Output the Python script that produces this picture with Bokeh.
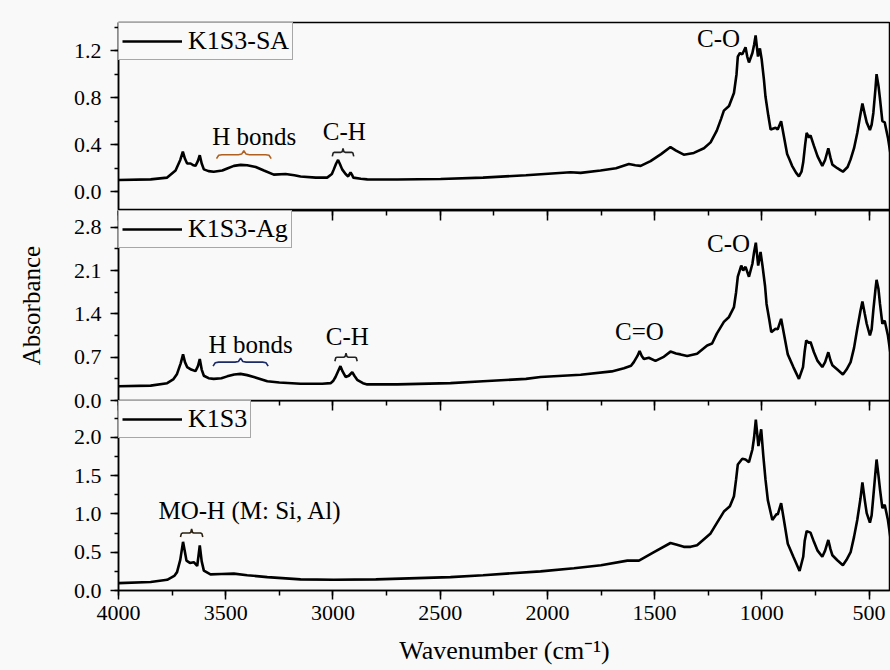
from bokeh.plotting import figure
from bokeh.models import (Range1d, SingleIntervalTicker, LinearAxis, PrintfTickFormatter,
                          Legend, LegendItem, ColumnDataSource)
from bokeh.layouts import column
from bokeh.embed import file_html
from bokeh.resources import INLINE
from bokeh.core.properties import value

# ---------------- data ----------------
wn_sa = [4000, 3850, 3773, 3734, 3712, 3700, 3690, 3680, 3664, 3650, 3641, 3630, 3621, 3612, 3602,
         3580, 3556, 3516, 3490, 3462, 3430, 3400, 3360, 3322, 3276, 3221, 3180, 3151, 3080, 3027,
         3005, 2996, 2985, 2976, 2966, 2957, 2941, 2929, 2918, 2910, 2905, 2870, 2840, 2700, 2498,
         2300, 2100, 1892, 1845, 1752, 1680, 1620, 1590, 1565, 1519, 1470, 1426, 1400, 1364, 1317,
         1270, 1239, 1210, 1190, 1177, 1153, 1130, 1118, 1112, 1102, 1091, 1076, 1068, 1060, 1044,
         1036, 1029, 1018, 1009, 1001, 990, 983, 970, 959, 936, 926, 910, 897, 882, 870, 859, 840,
         827, 815, 807, 798, 791, 780, 773, 757, 740, 718, 705, 690, 680, 671, 648, 630, 622, 600,
         586, 570, 555, 540, 531, 520, 511, 496, 488, 480, 470, 465, 456, 449, 438, 427, 412, 400]
ab_sa = [0.10, 0.105, 0.12, 0.18, 0.27, 0.34, 0.28, 0.24, 0.24, 0.225, 0.22, 0.26, 0.31, 0.24, 0.19,
         0.175, 0.17, 0.18, 0.20, 0.22, 0.228, 0.225, 0.21, 0.18, 0.145, 0.15, 0.14, 0.13, 0.12, 0.12,
         0.15, 0.19, 0.24, 0.27, 0.23, 0.19, 0.15, 0.13, 0.165, 0.14, 0.12, 0.11, 0.105, 0.104, 0.108,
         0.12, 0.14, 0.165, 0.16, 0.18, 0.20, 0.235, 0.225, 0.22, 0.26, 0.32, 0.38, 0.35, 0.315, 0.33,
         0.37, 0.42, 0.52, 0.62, 0.69, 0.73, 0.84, 1.0, 1.15, 1.18, 1.17, 1.23, 1.15, 1.10, 1.18,
         1.25, 1.33, 1.15, 1.22, 1.13, 0.95, 0.81, 0.65, 0.53, 0.545, 0.53, 0.60, 0.47, 0.32, 0.27, 0.22, 0.16,
         0.13, 0.17, 0.25, 0.40, 0.50, 0.46, 0.48, 0.39, 0.30, 0.22, 0.27, 0.37, 0.29, 0.23, 0.20, 0.18, 0.17, 0.21,
         0.275, 0.37, 0.50, 0.66, 0.75, 0.66, 0.59, 0.525, 0.57, 0.67, 0.88, 1.00, 0.90, 0.79, 0.60, 0.59, 0.46, 0.32]

wn_ag = [4000, 3850, 3773, 3745, 3727, 3710, 3699, 3690, 3680, 3661, 3641, 3630, 3621, 3612, 3602,
         3580, 3556, 3520, 3493, 3460, 3431, 3400, 3369, 3306, 3250, 3151, 3050, 3011, 2998, 2988,
         2975, 2965, 2955, 2941, 2926, 2910, 2900, 2887, 2860, 2840, 2700, 2452, 2300, 2100, 2032,
         1845, 1700, 1643, 1610, 1597, 1580, 1570, 1560, 1550, 1527, 1496, 1460, 1426, 1400, 1379,
         1348, 1302, 1255, 1232, 1210, 1177, 1153, 1130, 1120, 1112, 1096, 1087, 1076, 1060, 1044,
         1036, 1028, 1017, 1006, 997, 985, 978, 965, 956, 936, 926, 910, 897, 879, 853, 827, 808,
         800, 793, 780, 773, 757, 740, 718, 705, 690, 680, 671, 648, 622, 605, 586, 570, 555, 540,
         531, 520, 511, 496, 488, 480, 470, 465, 456, 449, 438, 427, 412, 400]
ab_ag = [0.23, 0.24, 0.28, 0.34, 0.43, 0.60, 0.745, 0.62, 0.54, 0.50, 0.475, 0.55, 0.67, 0.50, 0.40,
         0.36, 0.35, 0.36, 0.39, 0.42, 0.43, 0.41, 0.38, 0.31, 0.29, 0.27, 0.27, 0.28, 0.32, 0.38,
         0.48, 0.555, 0.47, 0.38, 0.40, 0.46, 0.40, 0.335, 0.28, 0.26, 0.26, 0.28, 0.31, 0.35, 0.38,
         0.415, 0.47, 0.52, 0.56, 0.62, 0.72, 0.80, 0.72, 0.67, 0.69, 0.64, 0.70, 0.79, 0.76, 0.745,
         0.72, 0.755, 0.89, 0.92, 1.08, 1.27, 1.35, 1.51, 1.75, 2.0, 2.18, 2.10, 2.16, 2.0, 2.21,
         2.40, 2.55, 2.18, 2.40, 2.18, 1.85, 1.56, 1.30, 1.105, 1.16, 1.15, 1.32, 1.08, 0.745, 0.54, 0.35, 0.54,
         0.80, 0.97, 0.93, 0.945, 0.78, 0.64, 0.54, 0.62, 0.78, 0.65, 0.57, 0.50, 0.42, 0.50, 0.62, 0.85, 1.16, 1.45,
         1.60, 1.40, 1.24, 1.05, 1.15, 1.46, 1.80, 1.95, 1.80, 1.56, 1.24, 1.29, 1.05, 0.755]

wn_k = [4000, 3850, 3773, 3740, 3727, 3712, 3699, 3690, 3683, 3667, 3649, 3633, 3627, 3621, 3612,
        3602, 3571, 3520, 3462, 3400, 3306, 3151, 2996, 2800, 2452, 2300, 2032, 1876, 1750, 1627,
        1573, 1503, 1426, 1400, 1364, 1332, 1302, 1239, 1210, 1177, 1149, 1130, 1120, 1112, 1091,
        1076, 1060, 1044, 1036, 1028, 1016, 1003, 993, 983, 972, 951, 931, 926, 910, 897, 879, 853,
        824, 807, 800, 791, 773, 757, 740, 718, 705, 690, 680, 671, 648, 622, 605, 586, 570, 555,
        540, 531, 520, 511, 496, 488, 480, 470, 465, 456, 449, 438, 427, 412, 400]
ab_k = [0.096, 0.11, 0.14, 0.19, 0.24, 0.40, 0.635, 0.50, 0.39, 0.36, 0.37, 0.32, 0.45, 0.59, 0.38,
        0.26, 0.21, 0.215, 0.22, 0.20, 0.175, 0.145, 0.14, 0.145, 0.175, 0.20, 0.25, 0.29, 0.33, 0.39,
        0.39, 0.50, 0.62, 0.60, 0.57, 0.57, 0.59, 0.745, 0.88, 1.03, 1.10, 1.23, 1.45, 1.645, 1.72,
        1.71, 1.675, 1.84, 2.0, 2.23, 1.885, 2.105, 1.755, 1.45, 1.18, 0.92, 1.00, 0.99, 1.14, 0.92, 0.61, 0.44,
        0.255, 0.44, 0.65, 0.775, 0.755, 0.635, 0.52, 0.44, 0.52, 0.66, 0.54, 0.46, 0.395, 0.33, 0.40, 0.50, 0.70, 0.92,
        1.20, 1.41, 1.18, 1.01, 0.885, 0.98, 1.23, 1.55, 1.71, 1.50, 1.32, 1.075, 1.12, 0.92, 0.68]

series_names = ["K1S3-SA", "K1S3-Ag", "K1S3"]
x_ticks_major = 500
x_tick_values = [4000, 3500, 3000, 2500, 2000, 1500, 1000, 500]
y_ranges = [(-0.16, 1.44), (0.0, 3.07), (0.0, 2.48)]
y_majors = [0.4, 0.7, 0.5]

# annotations: (label, x, y)
labels_sa = (["H bonds", "C-H", "C-O"], [3367, 2947, 1202], [0.47, 0.51, 1.30])
labels_ag = (["H bonds", "C-H", "C=O", "C-O"], [3384, 2933, 1571, 1155], [0.906, 1.035, 1.12, 2.54])
labels_k = (["MO-H (M: Si, Al)"], [3386], [1.05])
# braces: (x_start, x_end, y, colour)
braces_sa = [(3543, 3288, 0.315, "#b0601e"), (3003, 2903, 0.335, "#222222")]
braces_ag = [(3559, 3302, 0.62, "#1c2a66"), (2991, 2887, 0.70, "#222222")]
braces_k = [(3711, 3607, 0.75, "#2a2010")]

# ---------------- styling ----------------
FONT = "'Liberation Serif', 'Times New Roman', serif"
BG = "#f9f9f9"
W = 890
LEFT = 118
OVERLAP = 12
x_range = Range1d(4000, 400)


def make_panel(height, yr, ymaj, top, bottom, top_axis, bottom_axis, **kw):
    p = figure(width=W, height=height, x_range=x_range, y_range=Range1d(*yr),
               output_backend="svg", toolbar_location=None,
               x_axis_location="below" if bottom_axis else None,
               min_border_left=LEFT, min_border_right=0,
               min_border_top=top, min_border_bottom=bottom, **kw)
    p.background_fill_color = BG
    p.border_fill_color = BG
    p.outline_line_color = "black"
    p.outline_line_width = 1.5
    p.grid.visible = False
    ya = p.yaxis[0]
    ya.ticker = SingleIntervalTicker(interval=ymaj, num_minor_ticks=2)
    ya.formatter = PrintfTickFormatter(format="%.1f")
    ya.major_tick_out = 8
    ya.major_tick_in = 0
    ya.minor_tick_out = 4
    ya.minor_tick_in = 0
    ya.axis_line_width = 1.5
    ya.major_tick_line_width = 1.5
    ya.minor_tick_line_width = 1.5
    ya.major_label_text_font = FONT
    ya.major_label_text_font_size = "22px"
    ya.major_label_text_color = "black"
    ya.major_label_standoff = 9
    if bottom_axis:
        xa = p.xaxis[0]
        xa.ticker = SingleIntervalTicker(interval=x_ticks_major, num_minor_ticks=2)
        xa.major_tick_out = 9
        xa.major_tick_in = 0
        xa.minor_tick_out = 5
        xa.minor_tick_in = 0
        xa.axis_line_width = 1.5
        xa.major_tick_line_width = 1.5
        xa.minor_tick_line_width = 1.5
        xa.major_label_text_font = FONT
        xa.major_label_text_font_size = "22px"
        xa.major_label_text_color = "black"
        xa.major_label_standoff = 6
        xa.axis_label = "Wavenumber (cm\u207b\u00b9)"
        xa.axis_label_text_font = FONT
        xa.axis_label_text_font_size = "26px"
        xa.axis_label_text_font_style = "normal"
        xa.axis_label_text_color = "black"
        xa.axis_label_standoff = 13
    if top_axis:
        ta = LinearAxis(ticker=SingleIntervalTicker(interval=x_ticks_major, num_minor_ticks=2),
                        major_tick_in=10, major_tick_out=0, minor_tick_in=5, minor_tick_out=0,
                        major_tick_line_width=1.5, minor_tick_line_width=1.5,
                        axis_line_width=1.5,
                        major_label_overrides={v: "" for v in x_tick_values},
                        major_label_standoff=0)
        p.add_layout(ta, "above")
    return p


def brace_path(x0, x1, y, h):
    span = x1 - x0
    d = span * 0.10
    xm = (x0 + x1) / 2.0
    xs = [x0, x0 + d * 0.4, x0 + d, xm - d, xm - d * 0.4, xm, xm + d * 0.4, xm + d, x1 - d, x1 - d * 0.4, x1]
    ys = [y - h, y - h * 0.15, y, y, y + h * 0.15, y + h, y + h * 0.15, y, y, y - h * 0.15, y - h]
    return xs, ys


def decorate(p, wn, ab, name, labels, braces, yr, frame_h):
    r = p.line(wn, ab, line_color="black", line_width=2.6)
    leg = Legend(items=[LegendItem(label=name, renderers=[r])], location="top_left",
                 margin=0, padding=3, spacing=0, glyph_width=60, glyph_height=22,
                 label_standoff=6, label_text_font=FONT, label_text_font_size="26px",
                 label_text_color="black", border_line_color="#555555", border_line_width=1,
                 background_fill_color=BG, background_fill_alpha=1.0)
    p.add_layout(leg)
    txt, lx, ly = labels
    src = ColumnDataSource(dict(x=lx, y=ly, t=txt))
    p.text(x="x", y="y", text="t", source=src, text_font=value(FONT), text_font_size="25px",
           text_align="center", text_baseline="middle", text_color="black")
    h = 4.0 * (yr[1] - yr[0]) / frame_h
    for (x0, x1, y, col) in braces:
        xs, ys = brace_path(x0, x1, y, h)
        p.line(xs, ys, line_color=col, line_width=1.6)


frames = [188, 190, 190]
p1 = make_panel(210, y_ranges[0], y_majors[0], 22, 0, False, False)
p2 = make_panel(190 + OVERLAP, y_ranges[1], y_majors[1], 0, OVERLAP, True, False)
p3 = make_panel(270, y_ranges[2], y_majors[2], 0, 80, True, True, margin=(-OVERLAP, 0, 0, 0))
p3.background_fill_alpha = 0.0
p3.border_fill_alpha = 0.0

p2.yaxis[0].axis_label = "Absorbance"
p2.yaxis[0].axis_label_text_font = FONT
p2.yaxis[0].axis_label_text_font_size = "25px"
p2.yaxis[0].axis_label_text_font_style = "normal"
p2.yaxis[0].axis_label_text_color = "black"
p2.yaxis[0].axis_label_standoff = 26

decorate(p1, wn_sa, ab_sa, series_names[0], labels_sa, braces_sa, y_ranges[0], frames[0])
decorate(p2, wn_ag, ab_ag, series_names[1], labels_ag, braces_ag, y_ranges[1], frames[1])
decorate(p3, wn_k, ab_k, series_names[2], labels_k, braces_k, y_ranges[2], frames[2])

layout = column(p1, p2, p3, spacing=0, styles={"background-color": BG})
open("out.html", "w").write(file_html(layout, INLINE))
